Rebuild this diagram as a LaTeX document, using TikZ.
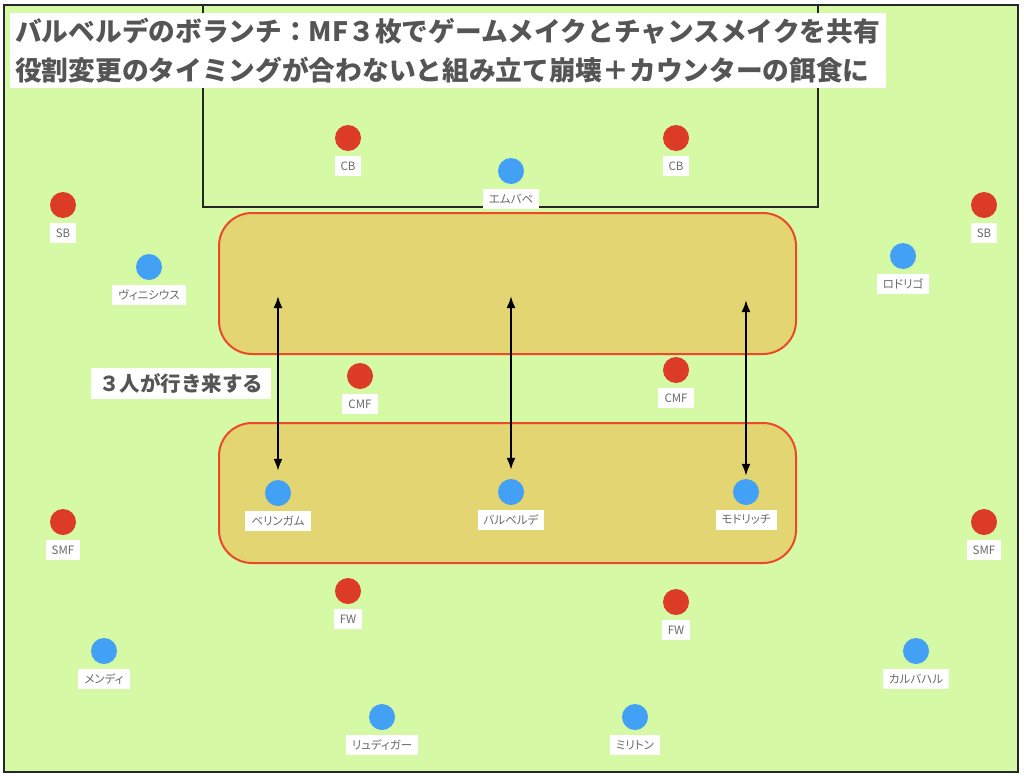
\documentclass[tikz,border=0pt]{standalone}
\usepackage{fontspec}
\setmainfont{Noto Sans CJK JP}
\newfontfamily\tagfont{Noto Sans CJK JP}[RawFeature=+palt]
\usetikzlibrary{positioning,arrows.meta}
\definecolor{pitch}{RGB}{214,249,166}
\definecolor{zonefill}{RGB}{226,213,114}
\definecolor{zoneline}{RGB}{236,72,42}
\definecolor{redteam}{RGB}{220,59,38}
\definecolor{blueteam}{RGB}{66,160,245}
\definecolor{headgray}{RGB}{85,85,85}
\definecolor{taggray}{RGB}{105,105,105}
\tikzset{
  redp/.style={circle,fill=redteam,minimum size=26pt,inner sep=0pt},
  bluep/.style={circle,fill=blueteam,minimum size=26pt,inner sep=0pt},
  tag/.style={fill=white,text=taggray,font=\tagfont\fontsize{11.5}{13}\selectfont,
    inner xsep=6pt,inner ysep=0pt,minimum height=20pt},
  zone/.style={draw=zoneline,fill=zonefill,line width=2pt,rounded corners=33pt},
  swap/.style={{Latex[length=12pt,width=9pt]}-{Latex[length=12pt,width=9pt]},line width=2pt}
}
\begin{document}
\begin{tikzpicture}[x=1pt,y=-1pt]
  \useasboundingbox (0,0) rectangle (1024,779);
  \fill[white] (0,0) rectangle (1024,779);
  \draw[fill=pitch,draw=black!85,line width=2pt] (4,5) rectangle (1018,772);
  \draw[black!85,line width=1.5pt] (203,5) -- (203,207) -- (818,207) -- (818,5);
  \draw[zone] (219,213) rectangle (796,354);
  \draw[zone] (219,423) rectangle (796,563);

  \node[fill=white,anchor=north west,text=headgray,align=left,text width=866pt,
    inner xsep=5pt,minimum height=75pt,
    font=\bfseries\fontsize{26.7}{39}\selectfont] (head) at (10,13)
    {バルベルデのボランチ：MF３枚でゲームメイクとチャンスメイクを共有\\
     役割変更のタイミングが合わないと組み立て崩壊＋カウンターの餌食に};
  \node[fill=white,text=headgray,inner xsep=8pt,minimum height=31pt,
    font=\bfseries\fontsize{20.5}{24}\selectfont] (note) at (181,383.5) {３人が行き来する};

  \draw
    (348,138) node[redp] (cb1) {}
    (676,138) node[redp] (cb2) {}
    (63,205) node[redp] (sb1) {}
    (984,205) node[redp] (sb2) {}
    (360,376) node[redp] (cmf1) {}
    (676,370) node[redp] (cmf2) {}
    (63,522) node[redp] (smf1) {}
    (984,522) node[redp] (smf2) {}
    (348,591) node[redp] (fw1) {}
    (676,602) node[redp] (fw2) {};
  \draw
    (511,171) node[bluep] (mbappe) {}
    (149,267) node[bluep] (vini) {}
    (903,256) node[bluep] (rodrygo) {}
    (278,493) node[bluep] (bell) {}
    (511,492) node[bluep] (valv) {}
    (746,492) node[bluep] (modric) {}
    (104,651) node[bluep] (mendy) {}
    (382,717) node[bluep] (rudi) {}
    (635,717) node[bluep] (mili) {}
    (916,651) node[bluep] (carva) {};

  \node[tag,below=4.5pt of cb1] (cb1t) {CB};
  \node[tag,below=4.5pt of cb2] (cb2t) {CB};
  \node[tag,below=4.5pt of sb1] (sb1t) {SB};
  \node[tag,below=4.5pt of sb2] (sb2t) {SB};
  \node[tag,below=4.5pt of cmf1] (cmf1t) {CMF};
  \node[tag,below=4.5pt of cmf2] (cmf2t) {CMF};
  \node[tag,below=4.5pt of smf1] (smf1t) {SMF};
  \node[tag,below=4.5pt of smf2] (smf2t) {SMF};
  \node[tag,below=4.5pt of fw1] (fw1t) {FW};
  \node[tag,below=4.5pt of fw2] (fw2t) {FW};
  \node[tag,below=4.5pt of mbappe] (mbappet) {エムバペ};
  \node[tag,below=4.5pt of vini] (vinit) {ヴィニシウス};
  \node[tag,below=4.5pt of rodrygo] (rodrygot) {ロドリゴ};
  \node[tag,below=4.5pt of bell] (bellt) {ベリンガム};
  \node[tag,below=4.5pt of valv] (valvt) {バルベルデ};
  \node[tag,below=4.5pt of modric] (modrict) {モドリッチ};
  \node[tag,below=4.5pt of mendy] (mendyt) {メンディ};
  \node[tag,below=4.5pt of rudi] (rudit) {リュディガー};
  \node[tag,below=4.5pt of mili] (milit) {ミリトン};
  \node[tag,below=4.5pt of carva] (carvat) {カルバハル};

  \coordinate (bellup) at (278,296);
  \coordinate (valvup) at (511,296);
  \coordinate (modricup) at (746,300);
  \begin{scope}[swap]
    \draw[shorten >=9pt] (bellup) to (bell);
    \draw[shorten >=9pt] (valvup) to (valv);
    \draw[shorten >=3pt] (modricup) to (modric);
  \end{scope}
\end{tikzpicture}
\end{document}
